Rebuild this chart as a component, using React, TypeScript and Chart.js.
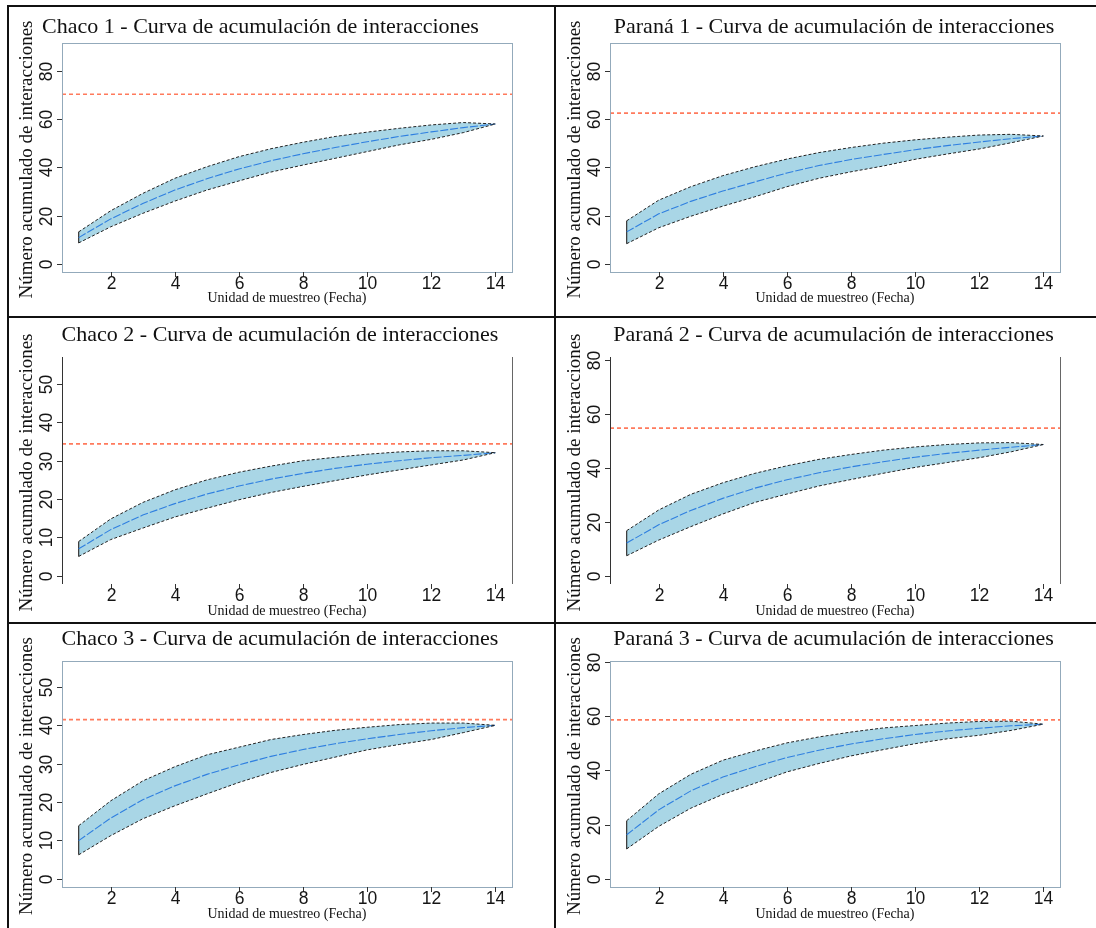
import { useEffect, useRef } from "react";
import { Chart, registerables } from "chart.js";

Chart.register(...registerables);

// ---------- data ----------
const sampleUnits = [1, 2, 3, 4, 5, 6, 7, 8, 9, 10, 11, 12, 13, 14];
const xTickValues = [2, 4, 6, 8, 10, 12, 14];
const yTicks80 = [0, 20, 40, 60, 80];
const yTicks50 = [0, 10, 20, 30, 40, 50];

const chaco1Upper = [13.2, 22.0, 29.2, 35.5, 40.3, 44.5, 47.8, 50.5, 52.9, 54.7, 56.3, 57.7, 58.7, 58.1];
const chaco1Lower = [8.6, 15.3, 20.9, 26.0, 30.6, 34.4, 38.1, 41.0, 43.8, 46.6, 49.4, 51.7, 54.5, 58.1];
const chaco1Mean = [10.8, 18.6, 25.0, 30.6, 35.3, 39.4, 42.8, 45.7, 48.3, 50.7, 52.9, 54.8, 56.6, 58.1];
const chaco1Ref = 70.5;

const parana1Upper = [17.8, 26.4, 32.0, 36.6, 40.3, 43.5, 46.2, 48.3, 50.1, 51.5, 52.6, 53.5, 53.8, 53.1];
const parana1Lower = [8.3, 14.9, 19.7, 23.9, 27.8, 32.0, 35.5, 38.2, 40.6, 43.4, 45.6, 47.7, 50.3, 53.1];
const parana1Mean = [13.2, 20.7, 25.9, 30.2, 34.0, 37.7, 40.8, 43.3, 45.4, 47.4, 49.1, 50.6, 52.0, 53.1];
const parana1Ref = 62.6;

const chaco2Upper = [8.9, 14.8, 19.1, 22.4, 25.0, 27.0, 28.6, 30.0, 30.9, 31.7, 32.3, 32.6, 32.6, 32.1];
const chaco2Lower = [5.0, 9.4, 12.4, 15.3, 17.6, 19.8, 21.7, 23.3, 24.8, 26.3, 27.6, 28.9, 30.2, 32.1];
const chaco2Mean = [7.0, 12.0, 15.8, 18.8, 21.3, 23.4, 25.2, 26.7, 28.0, 29.1, 30.0, 30.8, 31.4, 32.1];
const chaco2Ref = 34.4;

const parana2Upper = [16.7, 24.4, 30.2, 34.5, 38.0, 40.8, 43.2, 45.0, 46.6, 47.8, 48.7, 49.3, 49.4, 48.7];
const parana2Lower = [7.4, 13.2, 18.2, 22.9, 27.2, 30.3, 33.3, 35.7, 38.0, 40.2, 42.0, 43.8, 46.0, 48.7];
const parana2Mean = [12.1, 18.9, 24.2, 28.7, 32.5, 35.6, 38.2, 40.4, 42.3, 44.0, 45.4, 46.6, 47.7, 48.7];
const parana2Ref = 54.8;

const chaco3Upper = [13.8, 20.3, 25.5, 29.2, 32.3, 34.3, 36.3, 37.6, 38.7, 39.5, 40.2, 40.6, 40.6, 40.0];
const chaco3Lower = [6.2, 11.2, 15.6, 19.0, 22.1, 25.1, 27.7, 29.8, 31.7, 33.6, 35.0, 36.3, 38.1, 40.0];
const chaco3Mean = [9.9, 15.8, 20.6, 24.2, 27.2, 29.7, 31.9, 33.7, 35.2, 36.5, 37.6, 38.6, 39.4, 40.0];
const chaco3Ref = 41.5;

const parana3Upper = [21.4, 31.3, 38.5, 43.7, 47.1, 50.1, 52.3, 54.1, 55.6, 56.5, 57.4, 58.0, 58.1, 57.0];
const parana3Lower = [11.0, 19.3, 26.0, 31.1, 35.2, 39.4, 42.5, 45.3, 47.6, 49.8, 51.6, 52.9, 54.7, 57.0];
const parana3Mean = [16.2, 25.4, 32.4, 37.5, 41.3, 44.7, 47.4, 49.7, 51.6, 53.2, 54.5, 55.5, 56.4, 57.0];
const parana3Ref = 58.6;

const titles = [
  "Chaco 1 - Curva de acumulación de interacciones",
  "Paraná 1 - Curva de acumulación de interacciones",
  "Chaco 2 - Curva de acumulación de interacciones",
  "Paraná 2 - Curva de acumulación de interacciones",
  "Chaco 3 - Curva de acumulación de interacciones",
  "Paraná 3 - Curva de acumulación de interacciones",
];
const yAxisTitle = "Número acumulado de interacciones";
const xAxisTitle = "Unidad de muestreo (Fecha)";

// ---------- layout ----------
const COL_X = [8, 556];
const ROW_Y = [6, 317, 623];
const CANVAS_W = 540;
const CANVAS_H = 305;
const PLOT_LEFT = 54;
const PLOT_RIGHT = 504;
const ROW_PLOT = [
  { top: 37, bottom: 266, titleY: 26.5, xlabY: 296 },
  { top: 40, bottom: 267, titleY: 23.5, xlabY: 298 },
  { top: 38, bottom: 264, titleY: 21.5, xlabY: 295 },
];

type Panel = {
  title: string;
  upper: number[];
  lower: number[];
  mean: number[];
  ref: number;
  yMin: number;
  yMax: number;
  yTicks: number[];
  col: number;
  row: number;
  titleX: number;
  box: "full" | "sides";
};

const panels: Panel[] = [
  { title: titles[0], upper: chaco1Upper, lower: chaco1Lower, mean: chaco1Mean, ref: chaco1Ref, yMin: -3.5, yMax: 91.8, yTicks: yTicks80, col: 0, row: 0, titleX: 252.5, box: "full" },
  { title: titles[1], upper: parana1Upper, lower: parana1Lower, mean: parana1Mean, ref: parana1Ref, yMin: -3.5, yMax: 91.8, yTicks: yTicks80, col: 1, row: 0, titleX: 278, box: "full" },
  { title: titles[2], upper: chaco2Upper, lower: chaco2Lower, mean: chaco2Mean, ref: chaco2Ref, yMin: -2.2, yMax: 57.1, yTicks: yTicks50, col: 0, row: 1, titleX: 272, box: "sides" },
  { title: titles[3], upper: parana2Upper, lower: parana2Lower, mean: parana2Mean, ref: parana2Ref, yMin: -3.1, yMax: 81.2, yTicks: yTicks80, col: 1, row: 1, titleX: 277.5, box: "sides" },
  { title: titles[4], upper: chaco3Upper, lower: chaco3Lower, mean: chaco3Mean, ref: chaco3Ref, yMin: -2.2, yMax: 56.8, yTicks: yTicks50, col: 0, row: 2, titleX: 272, box: "full" },
  { title: titles[5], upper: parana3Upper, lower: parana3Lower, mean: parana3Mean, ref: parana3Ref, yMin: -3.05, yMax: 80.3, yTicks: yTicks80, col: 1, row: 2, titleX: 277.5, box: "full" },
];

const X_MIN = 0.48;
const X_MAX = 14.52;

function PanelChart({ p }: { p: Panel }) {
  const ref = useRef<HTMLCanvasElement | null>(null);
  useEffect(() => {
    const canvas = ref.current;
    if (!canvas) return;
    const rp = ROW_PLOT[p.row];
    const pts = (arr: number[]) => sampleUnits.map((x, i) => ({ x, y: arr[i] }));

    const decor = {
      id: "decor",
      afterDraw(chart: any) {
        const ctx = chart.ctx as CanvasRenderingContext2D;
        const { left, right, top, bottom } = chart.chartArea;
        const xs = chart.scales.x;
        const ys = chart.scales.y;
        ctx.save();
        ctx.lineWidth = 1;
        if (p.box === "full") {
          ctx.strokeStyle = "#93aabb";
          ctx.strokeRect(left + 0.5, top + 0.5, right - left, bottom - top);
        } else {
          ctx.strokeStyle = "#333";
          ctx.beginPath();
          ctx.moveTo(left + 0.5, top);
          ctx.lineTo(left + 0.5, bottom);
          ctx.stroke();
          ctx.strokeStyle = "#666";
          ctx.beginPath();
          ctx.moveTo(right + 0.5, top);
          ctx.lineTo(right + 0.5, bottom);
          ctx.stroke();
        }
        ctx.strokeStyle = "#333";
        ctx.fillStyle = "#151515";
        ctx.font = "17.5px 'Liberation Sans', Arial, sans-serif";
        for (const v of p.yTicks) {
          const py = Math.round(ys.getPixelForValue(v)) + 0.5;
          ctx.beginPath();
          ctx.moveTo(left - 5, py);
          ctx.lineTo(left, py);
          ctx.stroke();
          ctx.save();
          ctx.translate(39, py);
          ctx.rotate(-Math.PI / 2);
          ctx.textAlign = "center";
          ctx.textBaseline = "middle";
          ctx.fillText(String(v), 0, 0);
          ctx.restore();
        }
        for (const v of xTickValues) {
          const px = Math.round(xs.getPixelForValue(v)) + 0.5;
          ctx.beginPath();
          ctx.moveTo(px, bottom);
          ctx.lineTo(px, bottom + 5);
          ctx.stroke();
          ctx.textAlign = "center";
          ctx.textBaseline = "middle";
          ctx.fillText(String(v), px, bottom + 12);
        }
        ctx.fillStyle = "#111";
        ctx.font = "22px 'Liberation Serif', 'Times New Roman', serif";
        ctx.textAlign = "center";
        ctx.textBaseline = "alphabetic";
        ctx.fillText(p.title, p.titleX, rp.titleY);
        ctx.font = "14px 'Liberation Serif', 'Times New Roman', serif";
        ctx.fillText(xAxisTitle, (left + right) / 2, rp.xlabY);
        ctx.save();
        ctx.translate(18.7, (top + bottom) / 2 + 2);
        ctx.rotate(-Math.PI / 2);
        ctx.font = "19px 'Liberation Serif', 'Times New Roman', serif";
        ctx.textBaseline = "middle";
        ctx.fillText(yAxisTitle, 0, 0);
        ctx.restore();
        ctx.restore();
      },
    };

    const chart = new Chart(canvas, {
      type: "line",
      data: {
        datasets: [
          {
            label: "upper",
            data: pts(p.upper),
            borderColor: "#222",
            borderWidth: 1,
            borderDash: [3, 2],
            backgroundColor: "#a9d6e6",
            fill: "+1",
            pointRadius: 0,
          },
          {
            label: "lower",
            data: pts(p.lower),
            borderColor: "#222",
            borderWidth: 1,
            borderDash: [3, 2],
            fill: false,
            pointRadius: 0,
          },
          {
            label: "mean",
            data: pts(p.mean),
            borderColor: "#2f7fe0",
            borderWidth: 1.1,
            borderDash: [8, 2],
            fill: false,
            pointRadius: 0,
          },
          {
            label: "start",
            data: [
              { x: sampleUnits[0], y: p.upper[0] },
              { x: sampleUnits[0], y: p.lower[0] },
            ],
            borderColor: "#333",
            borderWidth: 1.2,
            fill: false,
            pointRadius: 0,
          },
          {
            label: "ref",
            data: [
              { x: X_MIN, y: p.ref },
              { x: X_MAX, y: p.ref },
            ],
            borderColor: "#ff7a5c",
            borderWidth: 1.6,
            borderDash: [4, 3],
            fill: false,
            pointRadius: 0,
          },
        ],
      },
      options: {
        animation: false,
        responsive: false,
        devicePixelRatio: 1,
        events: [],
        layout: {
          padding: {
            left: PLOT_LEFT,
            right: CANVAS_W - PLOT_RIGHT,
            top: rp.top,
            bottom: CANVAS_H - rp.bottom,
          },
        },
        plugins: {
          legend: { display: false },
          tooltip: { enabled: false },
          filler: { drawTime: "beforeDatasetsDraw" },
        },
        scales: {
          x: { type: "linear", display: false, min: X_MIN, max: X_MAX },
          y: { type: "linear", display: false, min: p.yMin, max: p.yMax },
        },
      },
      plugins: [decor],
    });
    return () => chart.destroy();
  }, [p]);

  return (
    <canvas
      ref={ref}
      width={CANVAS_W}
      height={CANVAS_H}
      style={{
        position: "absolute",
        left: COL_X[p.col],
        top: ROW_Y[p.row],
        width: CANVAS_W,
        height: CANVAS_H,
      }}
    />
  );
}

const line = (l: number, t: number, w: number, h: number) => (
  <div style={{ position: "absolute", left: l, top: t, width: w, height: h, background: "#111" }} />
);

export default function App() {
  return (
    <div style={{ position: "absolute", left: 0, top: 0, width: 1096, height: 928, background: "#fff", overflow: "hidden" }}>
      {panels.map((p, i) => (
        <PanelChart key={i} p={p} />
      ))}
      {line(7, 5, 2, 923)}
      {line(7, 5, 1089, 2)}
      {line(554, 5, 2, 923)}
      {line(7, 316, 1089, 2)}
      {line(7, 622, 1089, 2)}
    </div>
  );
}
